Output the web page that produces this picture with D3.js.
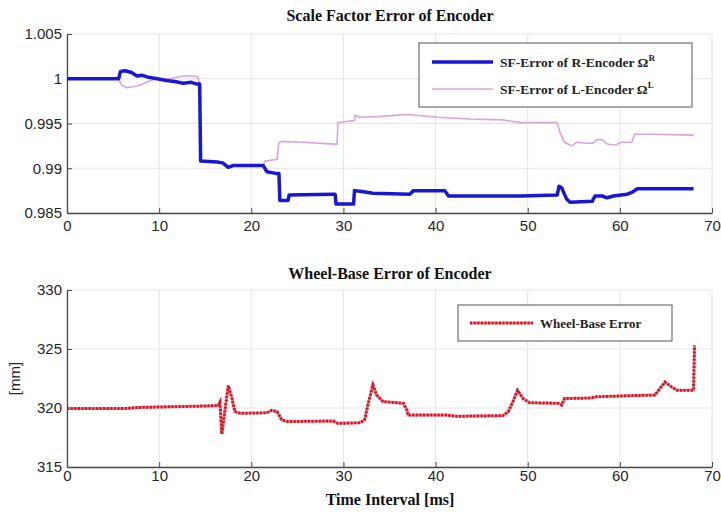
<!DOCTYPE html>
<html>
<head>
<meta charset="utf-8">
<script src="https://cdn.jsdelivr.net/npm/d3@7"></script>
<style>
  body { margin: 0; background: #fff; }
</style>
</head>
<body>
<script>
// ticks
var xTicks = [0, 10, 20, 30, 40, 50, 60, 70];
var sfTicks = [0.985, 0.99, 0.995, 1, 1.005];
var wbTicks = [315, 320, 325, 330];

// SF-error of R-encoder
var timeR = [0, 5.6, 5.8, 6.3, 7.0, 7.6, 8.1, 8.7, 9.8, 10.8, 11.7, 12.6, 13.5, 14.1, 14.4, 14.5, 16.3, 16.9, 17.5, 18.0, 21.3, 21.7, 22.8, 23.0, 23.1, 24.0, 24.1, 28.9, 29.1, 29.2, 31.1, 31.2, 32.0, 33.2, 37.2, 37.6, 41.0, 41.4, 49.2, 53.2, 53.4, 53.7, 54.2, 54.6, 57.0, 57.3, 58.1, 58.6, 59.3, 60.8, 61.3, 61.9, 68.0];
var sfErrorR = [1.0, 1.0, 1.0008, 1.0009, 1.0007, 1.0003, 1.0004, 1.0002, 1.0, 0.9998, 0.9997, 0.9995, 0.9996, 0.9994, 0.9994, 0.9908, 0.9907, 0.9906, 0.9901, 0.9903, 0.9903, 0.9896, 0.9894, 0.9894, 0.9864, 0.9864, 0.9870, 0.9871, 0.9871, 0.9860, 0.9860, 0.9875, 0.9874, 0.9872, 0.9871, 0.9875, 0.9875, 0.9869, 0.9869, 0.9870, 0.9880, 0.9878, 0.9866, 0.9862, 0.9863, 0.9869, 0.9869, 0.9867, 0.9869, 0.9871, 0.9873, 0.9877, 0.9877];

// SF-error of L-encoder
var timeL = [0, 5.6, 5.9, 6.5, 7.2, 7.6, 8.2, 8.8, 9.8, 11.2, 12.0, 12.6, 13.7, 14.2, 14.4, 14.5, 16.3, 16.9, 17.5, 18.0, 21.3, 21.5, 22.8, 23.0, 23.4, 25.6, 28.9, 29.3, 29.4, 30.9, 31.2, 31.3, 31.8, 34.0, 36.9, 40.2, 43.7, 47.3, 49.2, 53.2, 53.5, 54.0, 54.8, 55.3, 56.4, 57.1, 57.5, 58.1, 58.6, 59.5, 60.2, 61.3, 61.6, 63.3, 68.0];
var sfErrorL = [1.0, 1.0, 0.9993, 0.9990, 0.9991, 0.9992, 0.9994, 0.9997, 1.0, 1.0, 1.0002, 1.0003, 1.0003, 1.0002, 0.9994, 0.9908, 0.9907, 0.9906, 0.9901, 0.9903, 0.9903, 0.9908, 0.9910, 0.9929, 0.9930, 0.9929, 0.9927, 0.9927, 0.9951, 0.9953, 0.9953, 0.9959, 0.9957, 0.9958, 0.9960, 0.9957, 0.9955, 0.9954, 0.9951, 0.9951, 0.9940, 0.9929, 0.9925, 0.9929, 0.9928, 0.9928, 0.9932, 0.9932, 0.9927, 0.9926, 0.9929, 0.9929, 0.9938, 0.9938, 0.9937];

// wheel-base error [mm]
var timeWB = [0, 6, 8, 14, 16.4, 16.6, 16.8, 17.1, 17.5, 17.9, 18.2, 18.8, 21.7, 22.2, 22.8, 23.3, 23.9, 28.9, 29.4, 31.8, 32.3, 32.7, 33.2, 33.6, 34.3, 36.5, 36.9, 37.0, 41.2, 42.3, 47.3, 47.9, 48.4, 48.9, 49.5, 50.2, 53.3, 53.7, 54.0, 56.8, 57.5, 61.4, 63.8, 64.9, 65.6, 66.2, 68.0, 68.1];
var wheelBase = [319.95, 319.95, 320.05, 320.15, 320.2, 320.5, 317.8, 319.55, 321.9, 320.85, 319.7, 319.55, 319.6, 319.8, 319.7, 319.0, 318.85, 318.9, 318.7, 318.75, 319.0, 320.4, 321.95, 321.1, 320.55, 320.4, 319.8, 319.4, 319.4, 319.3, 319.35, 319.7, 320.55, 321.5, 320.8, 320.45, 320.4, 320.25, 320.8, 320.85, 320.95, 321.05, 321.1, 322.2, 321.8, 321.5, 321.5, 325.3];

var svg = d3.select('body').append('svg').attr('width', 721).attr('height', 513);

var x = d3.scaleLinear().domain([0, 70]).range([67, 712]);
var ySF = d3.scaleLinear().domain([0.985, 1.005]).range([213, 34]);
var yWB = d3.scaleLinear().domain([315, 330]).range([467, 290]);

/*PANEL: grid, axes, inward ticks*/
function drawPanel(y, yTicks, padX) {
    var top = y.range()[1], bottom = y.range()[0];
    var g = svg.append('g');

    g.selectAll('line.vgrid')
        .data(xTicks)
        .enter().append('line')
            .attr('x1', function(d) { return x(d); })
            .attr('x2', function(d) { return x(d); })
            .attr('y1', top)
            .attr('y2', bottom)
            .attr('stroke', '#e4e4e4');
    g.selectAll('line.hgrid')
        .data(yTicks)
        .enter().append('line')
            .attr('x1', x(0))
            .attr('x2', x(70))
            .attr('y1', function(d) { return y(d); })
            .attr('y2', function(d) { return y(d); })
            .attr('stroke', '#e4e4e4');

    g.append('g')
        .attr('transform', 'translate(0,' + bottom + ')')
        .call(d3.axisBottom(x).tickValues(xTicks).tickSizeInner(-5).tickSizeOuter(0).tickPadding(padX).tickFormat(d3.format('d')));
    g.append('g')
        .attr('transform', 'translate(' + x(0) + ',0)')
        .call(d3.axisLeft(y).tickValues(yTicks).tickSizeInner(-5).tickSizeOuter(0).tickPadding(5).tickFormat(d3.format('~g')));

    g.selectAll('.domain').attr('stroke', '#4a4a4a').attr('stroke-width', 1.3);
    g.selectAll('.tick line').attr('stroke', '#4a4a4a');
    g.selectAll('.tick text')
        .attr('font-family', 'Liberation Sans, Arial, sans-serif')
        .attr('font-size', 15)
        .attr('fill', '#262626');
}

drawPanel(ySF, sfTicks, 7);
drawPanel(yWB, wbTicks, 3);

/*TITLES*/
var serif = 'Liberation Serif, Times New Roman, serif';
var titles = [
    { t: 'Scale Factor Error of Encoder', y: 21, s: 16 },
    { t: 'Wheel-Base Error of Encoder', y: 279, s: 16 },
    { t: 'Time Interval [ms]', y: 505, s: 16 }
];
svg.selectAll('text.title')
    .data(titles)
    .enter().append('text')
        .attr('class', 'title')
        .attr('x', 390)
        .attr('y', function(d) { return d.y; })
        .attr('text-anchor', 'middle')
        .attr('font-family', serif)
        .attr('font-weight', 'bold')
        .attr('font-size', function(d) { return d.s; })
        .attr('fill', '#111')
        .text(function(d) { return d.t; });

svg.append('text')
    .attr('transform', 'translate(20,' + yWB(322.5) + ') rotate(-90)')
    .attr('text-anchor', 'middle')
    .attr('font-family', 'Liberation Sans, Arial, sans-serif')
    .attr('font-size', 15)
    .attr('fill', '#262626')
    .text('[mm]');

/*LINES*/
function pts(ts, vs) { return ts.map(function(t, i) { return [t, vs[i]]; }); }
var lineSF = d3.line().x(function(d) { return x(d[0]); }).y(function(d) { return ySF(d[1]); });
var lineWB = d3.line().x(function(d) { return x(d[0]); }).y(function(d) { return yWB(d[1]); });

svg.append('path')
    .attr('d', lineSF(pts(timeL, sfErrorL)))
    .attr('fill', 'none')
    .attr('stroke', '#dba3dc')
    .attr('stroke-width', 1.6);
svg.append('path')
    .attr('d', lineSF(pts(timeR, sfErrorR)))
    .attr('fill', 'none')
    .attr('stroke', '#1818d4')
    .attr('stroke-width', 3.5)
    .attr('stroke-linejoin', 'round');

svg.append('path')
    .attr('d', lineWB(pts(timeWB, wheelBase)))
    .attr('fill', 'none')
    .attr('stroke', '#f27c84')
    .attr('stroke-width', 2.6);
svg.append('path')
    .attr('d', lineWB(pts(timeWB, wheelBase)))
    .attr('fill', 'none')
    .attr('stroke', '#d01828')
    .attr('stroke-width', 3)
    .attr('stroke-dasharray', '2.2,1.4');

/*LEGENDS*/
var leg1 = svg.append('g');
leg1.append('rect')
    .attr('x', 419).attr('y', 43).attr('width', 273).attr('height', 64)
    .attr('fill', '#fff').attr('stroke', '#555');
leg1.append('line')
    .attr('x1', 432).attr('x2', 493).attr('y1', 62).attr('y2', 62)
    .attr('stroke', '#1818d4').attr('stroke-width', 3.5);
leg1.append('line')
    .attr('x1', 432).attr('x2', 493).attr('y1', 89).attr('y2', 89)
    .attr('stroke', '#dba3dc').attr('stroke-width', 1.6);
var legText = [
    { t: 'SF-Error of R-Encoder Ω', sup: 'R', y: 67 },
    { t: 'SF-Error of L-Encoder Ω', sup: 'L', y: 94 }
];
var lt = leg1.selectAll('text')
    .data(legText)
    .enter().append('text')
        .attr('x', 500)
        .attr('y', function(d) { return d.y; })
        .attr('font-family', serif)
        .attr('font-weight', 'bold')
        .attr('font-size', 13.5)
        .attr('fill', '#222');
lt.append('tspan').text(function(d) { return d.t; });
lt.append('tspan')
    .attr('dy', -6)
    .attr('font-size', 9)
    .text(function(d) { return d.sup; });

var leg2 = svg.append('g');
leg2.append('rect')
    .attr('x', 458).attr('y', 305).attr('width', 214).attr('height', 36)
    .attr('fill', '#fff').attr('stroke', '#555');
leg2.append('line')
    .attr('x1', 470).attr('x2', 533).attr('y1', 323).attr('y2', 323)
    .attr('stroke', '#f27c84').attr('stroke-width', 2.6);
leg2.append('line')
    .attr('x1', 470).attr('x2', 533).attr('y1', 323).attr('y2', 323)
    .attr('stroke', '#d01828').attr('stroke-width', 3).attr('stroke-dasharray', '2.2,1.4');
leg2.append('text')
    .attr('x', 540)
    .attr('y', 327.5)
    .attr('font-family', serif)
    .attr('font-weight', 'bold')
    .attr('font-size', 13)
    .attr('fill', '#222')
    .text('Wheel-Base Error');
</script>
</body>
</html>
